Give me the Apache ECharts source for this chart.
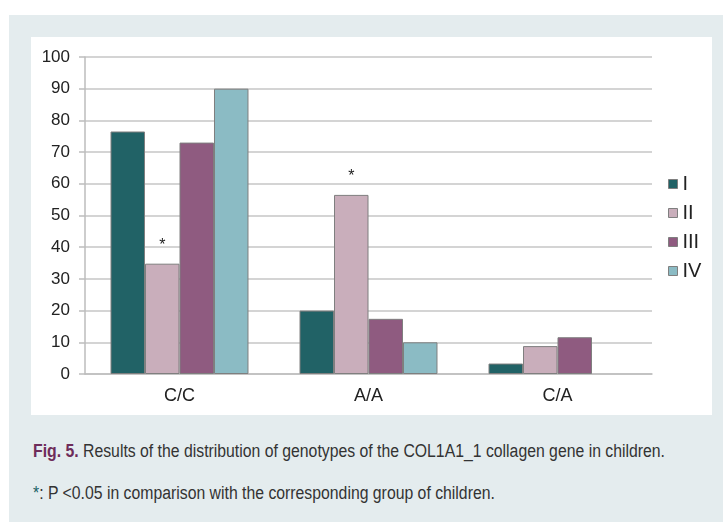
<!DOCTYPE html>
<html>
<head>
<meta charset="utf-8">
<script src="https://cdn.jsdelivr.net/npm/echarts@6/dist/echarts.min.js"></script>
<style>
body{margin:0;background:#fff;width:723px;height:522px;overflow:hidden;position:relative;font-family:"Liberation Sans",Arial,sans-serif}
.panel{position:absolute;left:9px;top:15px;width:714px;height:507px;background:#e4ecee}
#chart{position:absolute;left:22px;top:22px;width:681px;height:378px;background:#fff}
.cap{position:absolute;left:24px;font-family:"Liberation Sans Narrow","Liberation Sans",Arial,sans-serif;font-size:18px;color:#333;white-space:nowrap;transform-origin:0 0}
.cap b{color:#6e2c5a}
.star{color:#216266}
</style>
</head>
<body>
<div class="panel">
	<div id="chart"></div>
	<div class="cap" id="cap1" style="top:426px"><b>Fig. 5.</b> Results of the distribution of genotypes of the COL1A1_1 collagen gene in children.</div>
	<div class="cap" id="cap2" style="top:468px"><span class="star">*</span>: P &lt;0.05 in comparison with the corresponding group of children.</div>
</div>
<script>
	var categories = ['C/C', 'A/A', 'C/A']
	var groupNames = ['I', 'II', 'III', 'IV']
	var groupI = [76.5, 20, 3.3]
	var groupII = [34.8, 56.5, 8.8]
	var groupIII = [73, 17.4, 11.6]
	var groupIV = [90, 10, null]
	// asterisk marks (P<0.05) for group II
	var starII = [true, true, false]
	var colors = ['#216266', '#c9aebb', '#8f5b80', '#8bbbc4']

	// fit caption lines to the width they have in the figure
	var c1 = document.getElementById('cap1'), c2 = document.getElementById('cap2')
	var k = 632 / c1.getBoundingClientRect().width
	c1.style.transform = 'scaleX(' + k + ')'
	c2.style.transform = 'scaleX(' + k + ')'

	var values = [groupI, groupII, groupIII, groupIV]
	var chart = echarts.init(document.getElementById('chart'))
	var series = values.map(function (arr, i) {
		return {
			name: groupNames[i],
			type: 'bar',
			barGap: '0%',
			barCategoryGap: '27%',
			itemStyle: {color: colors[i], borderColor: '#7f7f7f', borderWidth: 1},
			data: arr.map(function (v, k) {
				var d = {value: v}
				if (i == 1 && starII[k]) {
					d.label = {show: true, position: 'top', formatter: '*', fontSize: 16, color: '#222', distance: 10}
				}
				return d
			})
		}
	})
	chart.setOption({
		animation: false,
		color: colors,
		grid: {left: 54, right: 60, top: 20, bottom: 41},
		legend: {
			orient: 'vertical',
			left: 632,
			top: 132,
			itemWidth: 9,
			itemHeight: 9,
			itemGap: 9,
			icon: 'rect',
			itemStyle: {borderColor: '#7f7f7f', borderWidth: 1},
			textStyle: {fontSize: 20, color: '#222', fontFamily: 'Liberation Sans'},
			data: groupNames
		},
		xAxis: {
			type: 'category',
			data: categories,
			axisLine: {lineStyle: {color: '#bdbdbd', width: 1.5}},
			axisTick: {length: 6, lineStyle: {color: '#bdbdbd', width: 1.5}},
			axisLabel: {fontSize: 18, color: '#222', margin: 13, fontFamily: 'Liberation Sans'}
		},
		yAxis: {
			type: 'value',
			min: 0,
			max: 100,
			interval: 10,
			axisLine: {show: true, lineStyle: {color: '#bdbdbd', width: 1.5}},
			axisTick: {show: true, length: 6, lineStyle: {color: '#bdbdbd', width: 1.5}},
			axisLabel: {fontSize: 17, color: '#222', margin: 15, fontFamily: 'Liberation Sans'},
			splitLine: {lineStyle: {color: '#c6c6c6', width: 1.5}}
		},
		series: series
	})
</script>
</body>
</html>
